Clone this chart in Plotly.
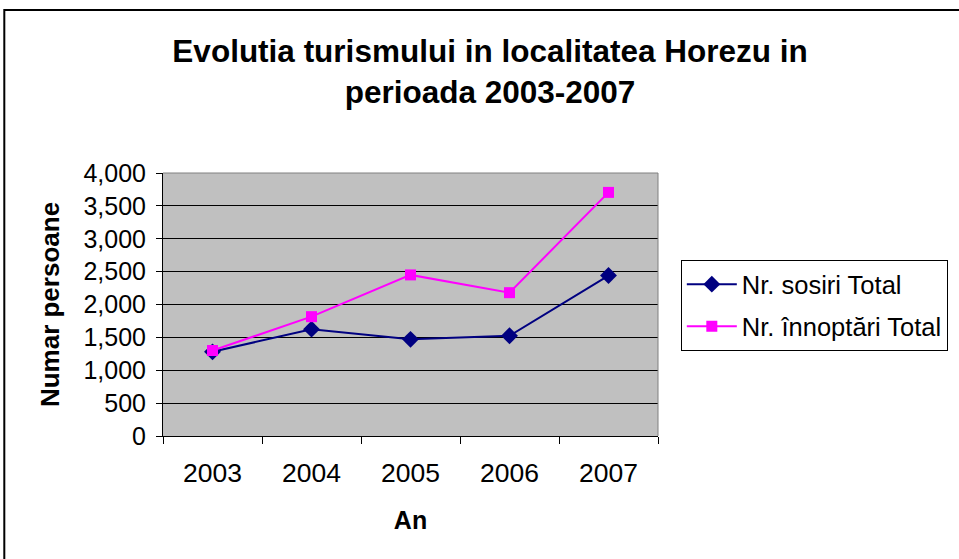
import plotly.graph_objects as go

years = ["2003", "2004", "2005", "2006", "2007"]
sosiri = [1280, 1625, 1470, 1525, 2440]
innoptari = [1300, 1815, 2450, 2180, 3705]
y_ticks = [0, 500, 1000, 1500, 2000, 2500, 3000, 3500, 4000]

FONT = "Liberation Sans, Arial, sans-serif"

fig = go.Figure()
fig.add_trace(go.Scatter(
    x=years, y=sosiri, name="Nr. sosiri Total", mode="lines+markers",
    legendgroup="a",
    line=dict(color="#000080", width=2),
    marker=dict(symbol="diamond", size=13, color="#000080"),
))
fig.add_trace(go.Scatter(
    x=years, y=innoptari, name="Nr. înnoptări Total", mode="lines+markers",
    legendgroup="b",
    line=dict(color="#FF00FF", width=2),
    marker=dict(symbol="square", size=11, color="#FF00FF"),
))

fig.update_layout(
    width=959, height=559,
    margin=dict(l=163, r=300, t=173, b=123),
    paper_bgcolor="white",
    plot_bgcolor="#C0C0C0",
    font=dict(family=FONT, size=24, color="black"),
    title=dict(
        text="<b>Evolutia turismului in localitatea Horezu in<br>perioada 2003-2007</b>",
        x=0.511, xanchor="center", xref="container",
        y=0.889, yanchor="middle", yref="container",
        font=dict(size=31.5, family=FONT),
    ),
    legend=dict(
        x=1.044, y=0.669, xanchor="left", yanchor="top",
        bordercolor="black", borderwidth=1, bgcolor="white",
        font=dict(size=25.5, family=FONT),
        traceorder="grouped", tracegroupgap=6,
        itemwidth=50,
    ),
    xaxis=dict(
        type="category", tickson="boundaries", range=[-0.5, 4.5],
        ticks="outside", ticklen=7, tickcolor="black",
        showline=True, linecolor="black", linewidth=1,
        showgrid=False, mirror=False,
        ticklabelstandoff=13,
        title=dict(text="<b>An</b>", font=dict(size=25), standoff=24),
        tickfont=dict(size=26.5),
    ),
    yaxis=dict(
        range=[0, 4000], tickvals=y_ticks, tickformat=",",
        ticks="outside", ticklen=6, tickcolor="black",
        showline=True, linecolor="black", linewidth=1,
        showgrid=True, gridcolor="black", gridwidth=1,
        zeroline=False,
        ticklabelstandoff=5,
        title=dict(text="<b>Numar persoane</b>", font=dict(size=26), standoff=16),
        tickfont=dict(size=25),
    ),
    shapes=[
        dict(type="rect", xref="paper", yref="paper",
             x0=-0.3206, x1=1.7, y0=-0.6, y1=1.6198,
             line=dict(color="black", width=2), layer="below"),
        dict(type="line", xref="paper", yref="paper",
             x0=0, x1=1, y0=1, y1=1, line=dict(color="#808080", width=1)),
        dict(type="line", xref="paper", yref="paper",
             x0=1, x1=1, y0=0, y1=1, line=dict(color="#808080", width=1)),
    ],
)

fig.write_html("out.html", config={"displayModeBar": False},
               post_script="document.body.style.margin='0';")
